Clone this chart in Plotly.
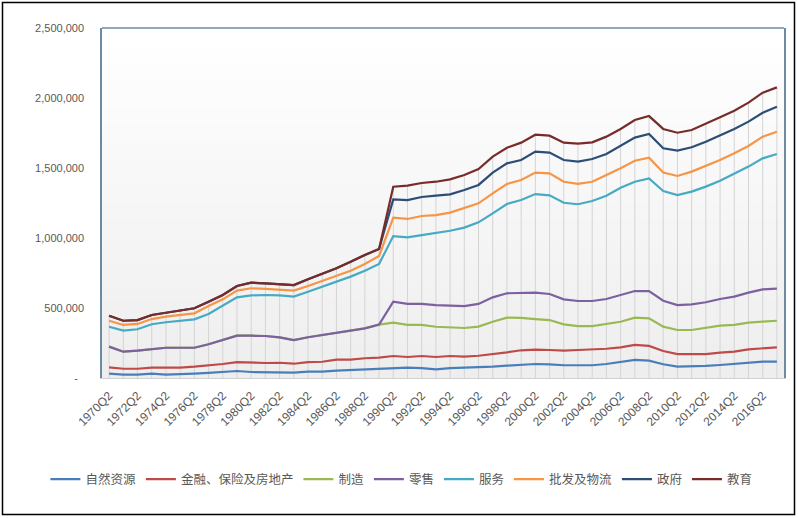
import plotly.graph_objects as go

years = list(range(1970, 2018))
categories = [f"{y}Q2" for y in years]
tick_labels = categories[::2]

natural_resources = [31000, 24000, 24000, 31000, 24000, 26000, 31000, 36000, 43000, 50000, 43000, 43000,
                     41000, 38000, 45000, 45000, 52000, 57000, 62000, 66000, 74000, 74000, 71000, 62000,
                     70000, 74000, 74000, 81000, 88000, 95000, 100000, 98000, 91000, 91000, 91000, 100000,
                     115000, 130000, 124000, 98000, 81000, 81000, 86000, 93000, 100000, 112000, 117000, 117000]
finance = [76000, 66000, 66000, 74000, 74000, 74000, 81000, 88000, 100000, 114000, 109000, 107000,
           109000, 102000, 114000, 116000, 131000, 131000, 141000, 145000, 157000, 150000, 157000, 150000,
           157000, 152000, 159000, 169000, 183000, 198000, 202000, 200000, 195000, 200000, 202000, 209000,
           219000, 236000, 229000, 193000, 171000, 171000, 171000, 181000, 188000, 205000, 212000, 219000]
manufacturing = [224000, 188000, 195000, 207000, 216000, 216000, 216000, 241000, 271000, 302000, 302000, 300000,
                 290000, 271000, 291000, 307000, 324000, 336000, 355000, 381000, 395000, 379000, 379000, 366000,
                 359000, 357000, 367000, 402000, 431000, 429000, 421000, 414000, 383000, 371000, 371000, 386000,
                 402000, 431000, 426000, 367000, 343000, 343000, 359000, 374000, 379000, 395000, 402000, 409000]
retail = [224000, 188000, 195000, 207000, 216000, 216000, 216000, 241000, 271000, 302000, 302000, 300000,
          290000, 271000, 291000, 307000, 324000, 336000, 355000, 381000, 545000, 529000, 529000, 521000,
          517000, 514000, 529000, 576000, 605000, 610000, 610000, 600000, 562000, 550000, 550000, 564000,
          593000, 621000, 621000, 552000, 521000, 526000, 541000, 564000, 581000, 610000, 633000, 638000]
services = [366000, 338000, 348000, 384000, 398000, 409000, 419000, 457000, 514000, 576000, 590000, 593000,
            590000, 581000, 616000, 652000, 688000, 724000, 766000, 814000, 1014000, 1005000, 1021000, 1036000,
            1052000, 1074000, 1112000, 1176000, 1243000, 1271000, 1314000, 1305000, 1252000, 1241000, 1264000, 1302000,
            1359000, 1402000, 1426000, 1336000, 1307000, 1331000, 1367000, 1409000, 1457000, 1510000, 1569000, 1600000]
wholesale = [409000, 379000, 386000, 421000, 438000, 450000, 462000, 514000, 562000, 624000, 641000, 636000,
             629000, 624000, 657000, 693000, 729000, 766000, 814000, 871000, 1145000, 1136000, 1157000, 1164000,
             1181000, 1212000, 1248000, 1319000, 1386000, 1414000, 1467000, 1462000, 1402000, 1386000, 1402000, 1450000,
             1498000, 1552000, 1574000, 1467000, 1443000, 1474000, 1514000, 1557000, 1605000, 1657000, 1724000, 1759000]
government = [445000, 409000, 414000, 450000, 466000, 481000, 498000, 545000, 593000, 657000, 681000, 676000,
              669000, 664000, 705000, 743000, 784000, 831000, 879000, 921000, 1276000, 1271000, 1293000, 1302000,
              1312000, 1343000, 1379000, 1467000, 1533000, 1557000, 1617000, 1610000, 1557000, 1545000, 1564000, 1600000,
              1657000, 1717000, 1743000, 1641000, 1624000, 1648000, 1688000, 1731000, 1779000, 1831000, 1895000, 1938000]
education = [445000, 409000, 414000, 450000, 466000, 481000, 498000, 545000, 593000, 657000, 681000, 676000,
             669000, 664000, 705000, 743000, 784000, 831000, 879000, 921000, 1366000, 1374000, 1393000, 1402000,
             1419000, 1450000, 1493000, 1581000, 1645000, 1681000, 1738000, 1731000, 1681000, 1674000, 1683000, 1724000,
             1779000, 1843000, 1871000, 1779000, 1752000, 1771000, 1814000, 1862000, 1909000, 1967000, 2038000, 2076000]

series = [
    ("自然资源", natural_resources, "#4a7ebb"),
    ("金融、保险及房地产", finance, "#be4b48"),
    ("制造", manufacturing, "#98b954"),
    ("零售", retail, "#7d60a0"),
    ("服务", services, "#46aac5"),
    ("批发及物流", wholesale, "#f69546"),
    ("政府", government, "#2c4d75"),
    ("教育", education, "#772c2a"),
]

y_ticks = [0, 500000, 1000000, 1500000, 2000000, 2500000]
y_ticktext = ["-\u00a0\u00a0", "500,000", "1,000,000", "1,500,000", "2,000,000", "2,500,000"]

fig = go.Figure()

# drop lines from the top series to the axis
dx, dy = [], []
for c, v in zip(categories, education):
    dx += [c, c, None]
    dy += [0, v, None]
fig.add_trace(go.Scatter(x=dx, y=dy, mode="lines", line=dict(color="#d4d4d4", width=1),
                         showlegend=False, hoverinfo="skip"))

for name, vals, color in series:
    fig.add_trace(go.Scatter(x=categories, y=vals, mode="lines", name=name,
                             line=dict(color=color, width=2.2)))

# gradient plot background
shapes = []
n = 40
for i in range(n):
    t = i / (n - 1)
    g = int(round(0xee + (0xff - 0xee) * t))
    col = f"rgb({g},{g},{g})"
    shapes.append(dict(type="rect", xref="paper", yref="paper", x0=0, x1=1,
                       y0=i / n, y1=(i + 1) / n + 0.002, fillcolor=col, line=dict(width=0), layer="below"))
# top border of plot area
shapes.append(dict(type="line", xref="paper", yref="paper", x0=0, x1=1, y0=1, y1=1,
                   line=dict(color="#6b8ba4", width=1.5)))
# outer chart border
shapes.append(dict(type="rect", xref="paper", yref="paper", x0=-0.1459, x1=1.0154,
                   y0=-0.3900, y1=1.0729, line=dict(color="#000000", width=1.5)))

fig.update_layout(
    width=798, height=518,
    margin=dict(l=102, r=14, t=28, b=140),
    paper_bgcolor="white",
    plot_bgcolor="rgba(0,0,0,0)",
    shapes=shapes,
    showlegend=True,
    legend=dict(orientation="h", x=-0.083, xanchor="left", y=-0.29, yanchor="middle",
                font=dict(family="Noto Sans CJK SC", size=12.5, color="#595959"),
                itemwidth=30, bgcolor="rgba(0,0,0,0)"),
    xaxis=dict(type="category", categoryorder="array", categoryarray=categories,
               range=[-0.5, len(categories) - 0.5],
               tickmode="array", tickvals=tick_labels, ticktext=tick_labels,
               tickangle=-45, showgrid=False, zeroline=False,
               showline=True, linecolor="#d0d0d0", linewidth=1, ticklabelstandoff=5,
               tickfont=dict(family="Liberation Sans", size=12, color="#595959")),
    yaxis=dict(range=[0, 2500000], tickmode="array", tickvals=y_ticks, ticktext=y_ticktext,
               showgrid=False, zeroline=False, showline=True, mirror=True,
               linecolor="#6b8ba4", linewidth=1.5, ticklabelstandoff=14,
               tickfont=dict(family="Liberation Sans", size=11, color="#595959")),
)

fig.write_html("out.html")
